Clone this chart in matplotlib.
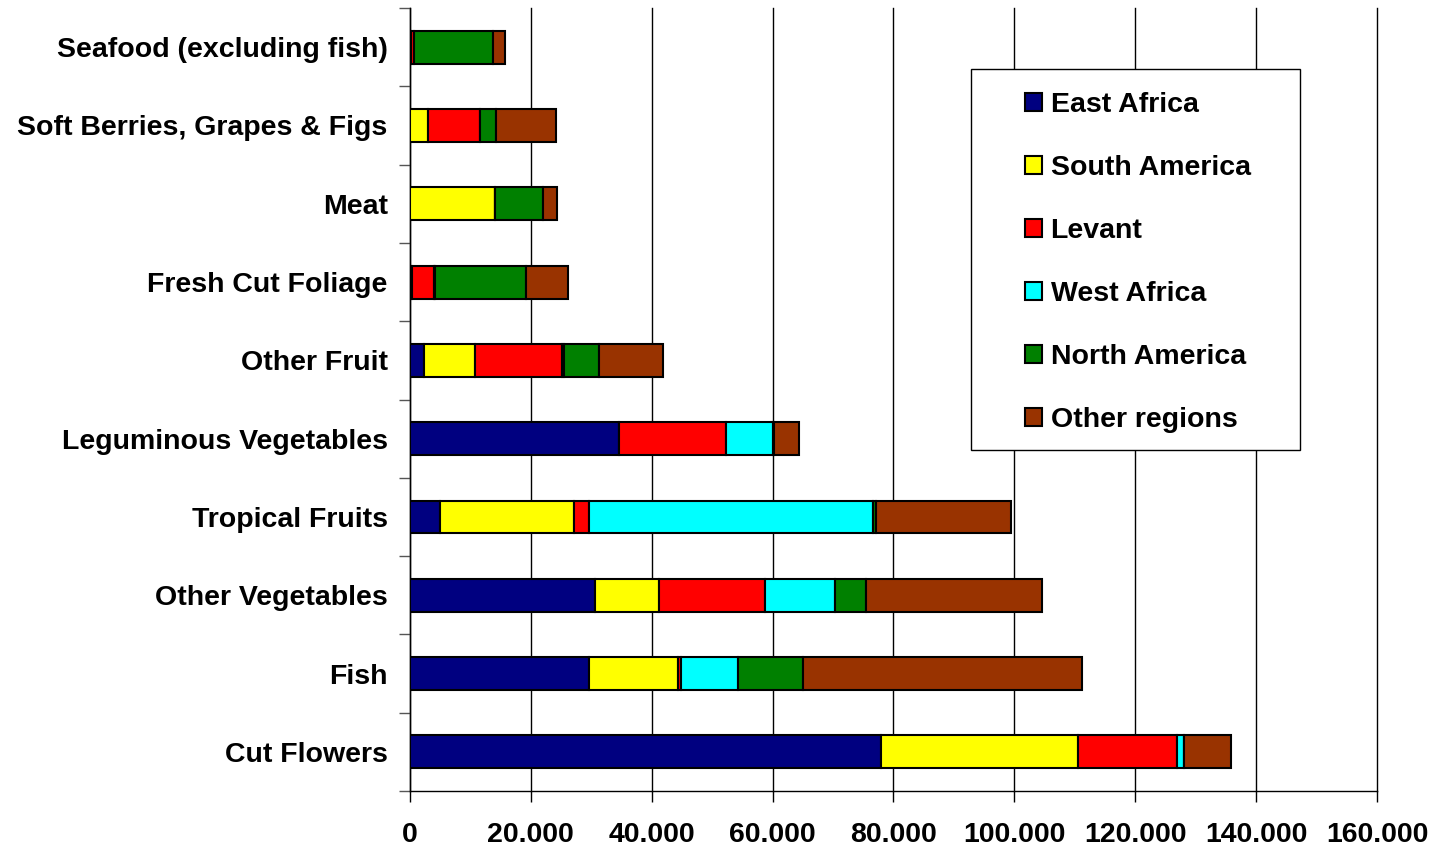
import numpy as np
from matplotlib import pyplot as plt
from matplotlib.patches import Rectangle

# categories from bottom to top
categories = ['Cut Flowers', 'Fish', 'Other Vegetables', 'Tropical Fruits',
              'Leguminous Vegetables', 'Other Fruit', 'Fresh Cut Foliage',
              'Meat', 'Soft Berries, Grapes & Figs', 'Seafood (excluding fish)']

regions = ['East Africa', 'South America', 'Levant', 'West Africa',
           'North America', 'Other regions']
colors = ['#000080', '#ffff00', '#ff0000', '#00ffff', '#008000', '#993300']

# values per region, same order as categories
east_africa   = [77900, 29600, 30600,  5000, 34600,  2300,   300,     0,    0,   200]
south_america = [32600, 14700, 10600, 22100,     0,  8500,     0, 14100, 3000,     0]
levant        = [16400,   500, 17500,  2500, 17700, 14400,  3600,     0, 8600,   400]
west_africa   = [ 1100,  9400, 11600, 47000,  7700,   300,   300,     0,    0,     0]
north_america = [    0, 10900,  5100,   500,   300,  5700, 15000,  7900, 2700, 13200]
other_regions = [ 7900, 46100, 29200, 22300,  4100, 10600,  7000,  2400, 9900,  2000]

xticks = [0, 20000, 40000, 60000, 80000, 100000, 120000, 140000, 160000]
xticklabels = ['0', '20.000', '40.000', '60.000', '80.000', '100.000',
               '120.000', '140.000', '160.000']

plt.rcParams['font.family'] = 'Liberation Sans'
plt.rcParams['font.weight'] = 'bold'

fig = plt.figure(figsize=(14.39, 8.46), dpi=100)
ax = fig.add_axes([0.2849, 0.065, 0.9569 - 0.2849, 0.9905 - 0.065])

series = [east_africa, south_america, levant, west_africa, north_america, other_regions]
y = np.arange(len(categories))
left = np.zeros(len(categories))
for vals, c, lbl in zip(series, colors, regions):
    vals = np.array(vals, dtype=float)
    ax.barh(y, vals, left=left, height=0.42, color=c, edgecolor='black',
            linewidth=1.5, label=lbl, zorder=3)
    left += vals

ax.set_xlim(0, 160000)
ax.set_ylim(-0.5, len(categories) - 0.5)
ax.set_xticks(xticks)
ax.set_xticklabels(xticklabels, fontsize=20.5, fontweight='bold')
ax.set_yticks(y)
ax.set_yticklabels(categories, fontsize=20.5, fontweight='bold')
ax.set_yticks(np.arange(len(categories) + 1) - 0.5, minor=True)
ax.tick_params(axis='y', which='major', length=0, pad=16)
ax.tick_params(axis='y', which='minor', length=8, width=1, color='#555555')
ax.tick_params(axis='x', which='major', length=8, width=1, pad=14)

ax.xaxis.grid(True, color='black', linewidth=1, zorder=0)
for gl in ax.get_xgridlines():
    gl.set_clip_on(False)
ax.set_axisbelow(True)
for s in ['top', 'right']:
    ax.spines[s].set_visible(False)
ax.spines['left'].set_linewidth(1)
ax.spines['bottom'].set_linewidth(1)

# legend box
ax.add_patch(Rectangle((0.58, 0.4355), 0.34, 0.4865, transform=ax.transAxes,
                       facecolor='white', edgecolor='black', linewidth=1, zorder=4))
ax.legend(loc='upper left', bbox_to_anchor=(0.636, 0.893), frameon=False,
          borderpad=0, borderaxespad=0, handlelength=0.6, handleheight=0.6,
          handletextpad=0.3, labelspacing=1.3,
          prop={'size': 20.5, 'weight': 'bold'}).set_zorder(5)

plt.savefig('out.png', dpi=100)
